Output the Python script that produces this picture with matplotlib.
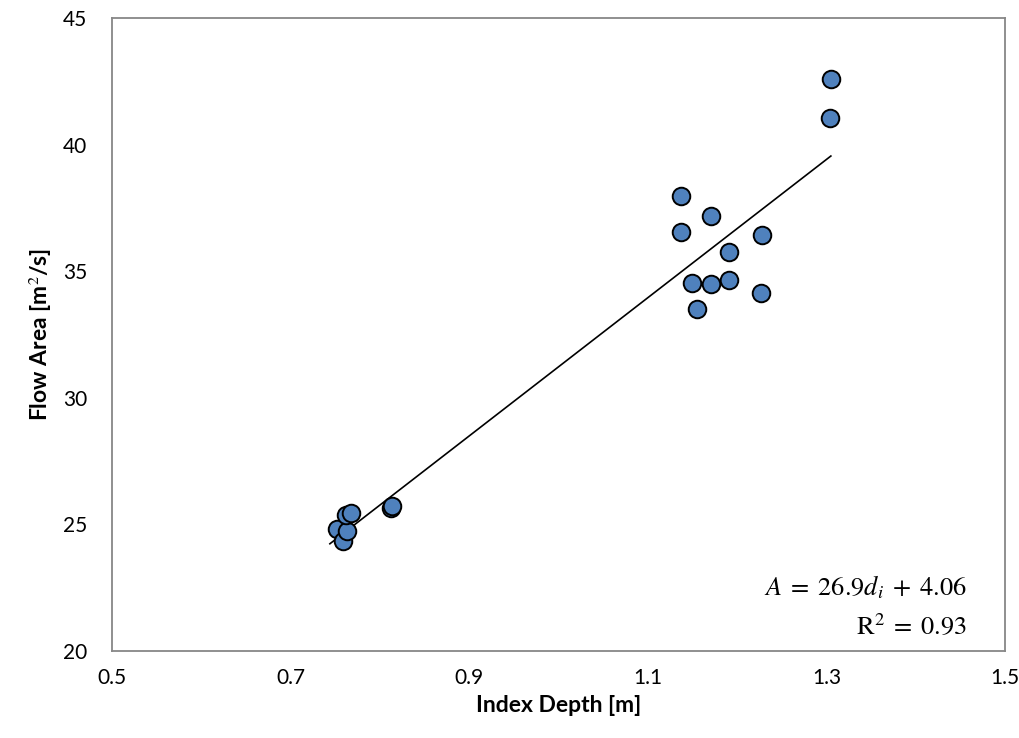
import matplotlib
matplotlib.use("Agg")
import matplotlib.pyplot as plt
import numpy as np

depth = [0.752, 0.759, 0.763, 0.762, 0.768, 0.812, 0.813,
         1.137, 1.137, 1.149, 1.155, 1.171, 1.171, 1.191, 1.191,
         1.228, 1.227, 1.304, 1.305]
area = [24.82, 24.34, 24.74, 25.37, 25.45, 25.65, 25.72,
        37.97, 36.55, 34.53, 33.51, 37.18, 34.49, 35.76, 34.65,
        36.43, 34.14, 41.05, 42.59]

xticks = [0.5, 0.7, 0.9, 1.1, 1.3, 1.5]
yticks = [20, 25, 30, 35, 40, 45]

plt.rcParams['font.family'] = ['Lato', 'DejaVu Sans']
plt.rcParams['mathtext.fontset'] = 'stix'

fig = plt.figure(figsize=(10.2, 7.38), dpi=100)
ax = fig.add_axes([0.1098, 0.1179, 0.8755, 0.8577])

x = np.array(depth)
y = np.array(area)
m, b = np.polyfit(x, y, 1)
lx = np.array([x.min() - 0.008, x.max()])
ax.plot(lx, m * lx + b, color='black', lw=1.2, zorder=2)

ax.scatter(depth, area, s=160, facecolor='#4F81BD', edgecolor='black',
           linewidth=1.4, zorder=3)

ax.set_xlim(0.5, 1.5)
ax.set_ylim(20, 45)
ax.set_xticks(xticks)
ax.set_xticklabels([f"{t:.1f}" for t in xticks])
ax.set_yticks(yticks)
ax.tick_params(length=0, labelsize=15, pad=12)
ax.tick_params(axis='y', pad=18)
for s in ax.spines.values():
    s.set_color('#878787')
    s.set_linewidth(1.3)

ax.set_xlabel('Index Depth [m]', fontsize=16.5, fontweight='bold', labelpad=5)
ax.set_ylabel('Flow Area [m$^2$/s]', fontsize=16.5, fontweight='bold', labelpad=6)

ax.text(0.958, 0.1, r'$A\;=\;26.9d_i\;+\;4.06$', transform=ax.transAxes,
        ha='right', va='center', fontsize=19)
ax.text(0.958, 0.04, r'$\mathrm{R}^2\;=\;0.93$', transform=ax.transAxes,
        ha='right', va='center', fontsize=19)

fig.savefig('out.png', dpi=100)
